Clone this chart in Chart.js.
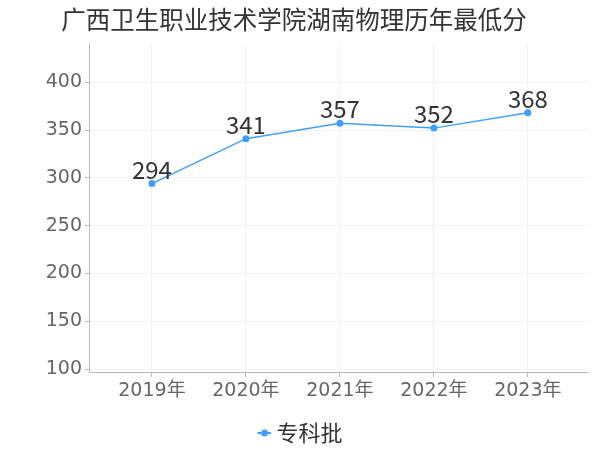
<!DOCTYPE html>
<html><head><meta charset="utf-8">
<script src="https://cdn.jsdelivr.net/npm/chart.js@4"></script>
<style>html,body{margin:0;padding:0;background:#fff}#wrap{width:600px;height:450px}</style>
</head><body><div id="wrap"><canvas id="c" width="600" height="450"></canvas></div>
<script>
const chartTitle = '广西卫生职业技术学院湖南物理历年最低分';
const years = [2019, 2020, 2021, 2022, 2023];
const yearLabels = years.map(y => y + '年');
const seriesName = '专科批';
const scores = [294, 341, 357, 352, 368];
const yTicks = [100, 150, 200, 250, 300, 350, 400];

const BLUE = '#409EFF';
const LATIN = "'DejaVu Sans', 'Noto Sans CJK SC', sans-serif";
const CJK = "'Noto Sans CJK SC', sans-serif";

// legend marker: line with dot (drawn in the right part of a wider transparent image)
const marker = document.createElement('canvas');
marker.width = 32; marker.height = 8;
(function(){
  const g = marker.getContext('2d');
  g.strokeStyle = BLUE; g.lineWidth = 2;
  g.beginPath(); g.moveTo(18, 4); g.lineTo(32, 4); g.stroke();
  g.fillStyle = BLUE; g.beginPath(); g.arc(25, 4, 3.5, 0, Math.PI * 2); g.fill();
})();

const valueLabels = {
  id: 'valueLabels',
  afterDatasetsDraw(chart) {
    const ctx = chart.ctx;
    const meta = chart.getDatasetMeta(0);
    ctx.save();
    ctx.font = "24px " + CJK;
    ctx.fillStyle = '#333';
    ctx.textAlign = 'center';
    ctx.textBaseline = 'alphabetic';
    meta.data.forEach((pt, i) => {
      ctx.fillText(String(scores[i]), pt.x, pt.y - 5);
    });
    ctx.restore();
  }
};

new Chart(document.getElementById('c'), {
  type: 'line',
  data: {
    datasets: [{
      label: seriesName,
      data: years.map((y, i) => ({ x: y, y: scores[i] })),
      borderColor: BLUE,
      backgroundColor: BLUE,
      borderWidth: 1.5,
      pointRadius: 3.5,
      pointHoverRadius: 3.5,
      pointBackgroundColor: BLUE,
      pointBorderWidth: 0,
      tension: 0,
      clip: false
    }]
  },
  options: {
    responsive: false,
    animation: false,
    layout: { padding: { left: 0, right: 12, top: 0, bottom: -4 } },
    plugins: {
      title: {
        display: true,
        text: chartTitle,
        color: '#333',
        font: { family: CJK, size: 24.5, weight: 'normal' },
        padding: { top: 5, bottom: 8.6 }
      },
      legend: {
        position: 'bottom',
        labels: {
          usePointStyle: true,
          pointStyle: marker,
          pointStyleWidth: 20,
          color: '#333',
          font: { family: CJK, size: 22 },
          padding: 10
        }
      },
      tooltip: { enabled: false }
    },
    scales: {
      x: {
        type: 'linear',
        min: 2018.33,
        max: 2023.64,
        afterBuildTicks(scale) { scale.ticks = years.map(v => ({ value: v })); },
        afterFit(scale) { scale.height = 40; },
        ticks: {
          color: '#666',
          font: { family: LATIN, size: 19 },
          padding: 3,
          callback: (v) => yearLabels[years.indexOf(v)]
        },
        grid: { color: '#f2f2f2', tickColor: '#bbb', tickLength: 5 },
        border: { color: '#bbb' }
      },
      y: {
        min: 97,
        max: 441,
        afterBuildTicks(scale) { scale.ticks = yTicks.map(v => ({ value: v })); },
        afterFit(scale) { scale.width = 89; },
        ticks: {
          color: '#666',
          font: { family: LATIN, size: 19 },
          padding: 3,
          callback: (v) => String(v)
        },
        grid: { color: '#f2f2f2', tickColor: '#bbb', tickLength: 4 },
        border: { color: '#bbb' }
      }
    }
  },
  plugins: [valueLabels]
});
</script>
</body></html>
